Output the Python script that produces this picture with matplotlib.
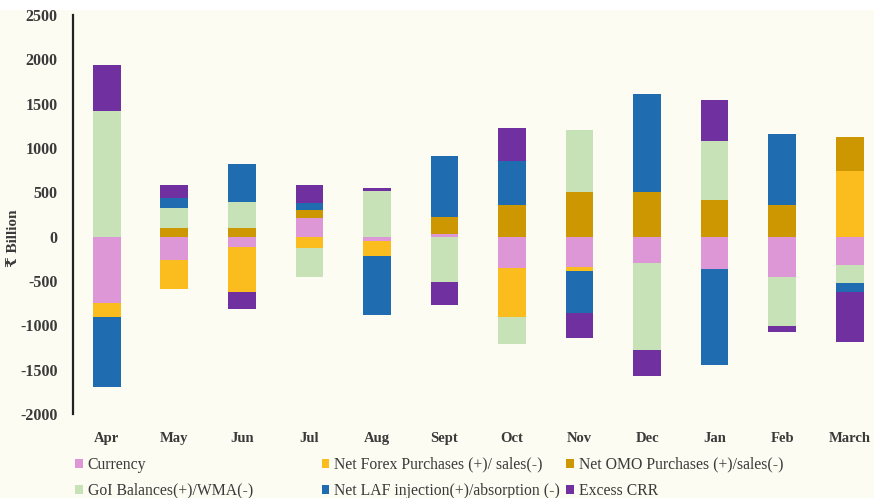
import matplotlib.pyplot as plt
import numpy as np
from matplotlib.patches import Patch, Rectangle

months = ['Apr', 'May', 'Jun', 'Jul', 'Aug', 'Sept', 'Oct', 'Nov', 'Dec', 'Jan', 'Feb', 'March']

# liquidity drivers, Rs billion
currency = [-745, -265, -120, 208, -45, 30, -358, -340, -294, -366, -460, -321]
forex    = [-160, -325, -510, -132, -180, 0, -548, -45, 0, 0, 0, 743]
omo      = [0, 95, 95, 94, 0, 190, 358, 498, 498, 415, 358, 378]
goi      = [1420, 225, 300, -320, 510, -509, -309, 702, -989, 660, -551, -200]
laf      = [-795, 115, 420, 75, -660, 687, 499, -483, 1106, -1087, 804, -102]
crr      = [520, 145, -190, 208, 38, -265, 362, -272, -291, 461, -64, -566]

series = [currency, forex, omo, goi, laf, crr]
labels = ['Currency', 'Net Forex Purchases (+)/ sales(-)', 'Net OMO Purchases (+)/sales(-)',
          'GoI Balances(+)/WMA(-)', 'Net LAF injection(+)/absorption (-)', 'Excess CRR']
colors = ['#dd96d6', '#fbbc1d', '#cc9700', '#c7e2b6', '#1f6cb0', '#7030a0']

bg = '#fcfcf2'
serif = ['Liberation Serif', 'DejaVu Serif', 'DejaVu Sans']

fig = plt.figure(figsize=(8.74, 4.98), dpi=100, facecolor=bg)
fig.patches.append(Rectangle((0, 0.98), 1, 0.02, transform=fig.transFigure,
                             facecolor='white', edgecolor='none', zorder=0))
ax = fig.add_axes([0.0835, 0.169, 0.9165, 0.801])
ax.set_facecolor(bg)

x = np.arange(len(months))
pos = np.zeros(len(months))
neg = np.zeros(len(months))
for vals, c in zip(series, colors):
    v = np.array(vals, dtype=float)
    bottom = np.where(v >= 0, pos, neg)
    ax.bar(x, v, 0.41, bottom=bottom, color=c, edgecolor='none')
    pos = pos + np.where(v > 0, v, 0)
    neg = neg + np.where(v < 0, v, 0)

ax.set_xlim(-0.5, 11.36)
ax.set_ylim(-2000, 2500)
ax.set_yticks(np.arange(-2000, 2501, 500))
ax.set_yticklabels([str(t) for t in range(-2000, 2501, 500)], family=serif,
                   fontweight='bold', fontsize=11.5, color='#3a3a3a')
ax.set_xticks(x)
ax.set_xticklabels(months, family=serif, fontweight='bold', fontsize=10.5, color='#3a3a3a')
ax.tick_params(axis='both', length=0)
ax.tick_params(axis='y', pad=11)
ax.tick_params(axis='x', pad=13)

for s in ['top', 'right', 'bottom']:
    ax.spines[s].set_visible(False)
ax.spines['left'].set_linewidth(1.6)
ax.spines['left'].set_color('#222222')

ax.set_ylabel('₹ Billion', family=serif, fontweight='bold', fontsize=11,
              color='#3a3a3a')
ax.yaxis.set_label_coords(-0.066, 0.44)

# legend in three columns placed by hand
cols = [(0.086, [0, 3]), (0.368, [1, 4]), (0.648, [2, 5])]
for xpos, idx in cols:
    handles = [Patch(facecolor=colors[i], edgecolor='none') for i in idx]
    leg = fig.legend(handles, [labels[i] for i in idx], loc='upper left',
                     bbox_to_anchor=(xpos, 0.083), frameon=False,
                     prop={'family': serif, 'size': 11.3},
                     handlelength=0.5, handleheight=0.5, handletextpad=0.3,
                     labelspacing=0.65, borderaxespad=0, borderpad=0)
    for t in leg.get_texts():
        t.set_color('#3a3a3a')

plt.savefig('out.png', dpi=100, facecolor=bg)
